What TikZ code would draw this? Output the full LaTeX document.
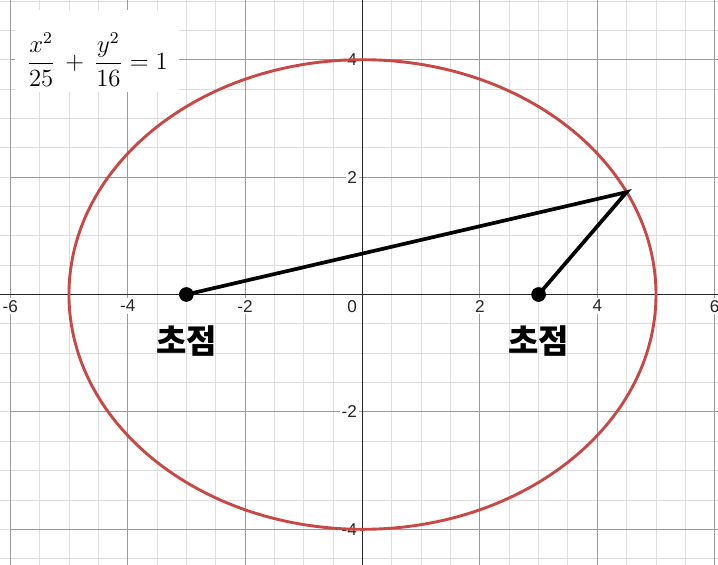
\documentclass[tikz,border=0pt]{standalone}
\usepackage{fontspec}
\setsansfont{Liberation Sans}
\newfontfamily\krfont{Noto Sans CJK KR}
\definecolor{curvered}{RGB}{199,72,68}
\definecolor{minorgrid}{RGB}{222,222,222}
\definecolor{majorgrid}{RGB}{155,155,155}

\begin{document}
\begin{tikzpicture}[
  tick label/.style={font=\sffamily\fontsize{8.3}{8.3}\selectfont, fill=white, inner sep=0.8pt, text=black!85},
  focus dot/.style={circle, draw, fill=black, inner sep=0pt, minimum width=0.23cm},
  focus label/.style={font=\krfont\bfseries\fontsize{16}{16}\selectfont}]
\useasboundingbox (-6.175,-4.591) rectangle (6.056,5.017);
\clip (-6.175,-4.591) rectangle (6.056,5.017);
\fill[white] (-6.175,-4.591) rectangle (6.056,5.017);

% grid and axes
\draw[minorgrid, line width=0.45pt] (-6.5,-5) grid[step=0.5] (6.5,5.5);
\draw[majorgrid, line width=0.4pt] (-6,-6) grid[step=2] (6.5,5.5);
\draw[black!85, line width=0.9pt] (-6.5,0) -- (6.5,0);
\draw[black!85, line width=0.9pt] (0,-5) -- (0,5.5);

\foreach \x in {-6,-4,-2,2,4,6}
  \node[tick label, below] (xl\x) at (\x,-0.06) {\x};
\foreach \y in {-4,-2,2,4}
  \node[tick label, left] (yl\y) at (-0.06,\y) {\y};
\node[tick label, below left] (origin) at (-0.06,-0.06) {0};

% ellipse
\draw[curvered, line width=1.4pt] (0,0) ellipse [x radius=5, y radius=4];

% equation
\fill[white] (-5.92,3.45) rectangle (-3.12,4.85);
\node[font=\fontsize{12}{14}\selectfont] (eq) at (-4.52,4.0)
  {$\displaystyle \frac{x^2}{25} \,+\, \frac{y^2}{16} = 1$};

% foci and point on the ellipse
\coordinate (P) at (4.5,1.744);
\node[focus dot] (F1) at (-3,0) {};
\node[focus dot] (F2) at (3,0) {};
\draw[line width=1.8pt] (F1.center) -- (P) -- (F2.center);
\node[focus dot] at (F1) {};
\node[focus dot] at (F2) {};

\node[focus label] (L1) at (-3,-0.79) {초점};
\node[focus label] (L2) at (3,-0.79) {초점};

\end{tikzpicture}
\end{document}
